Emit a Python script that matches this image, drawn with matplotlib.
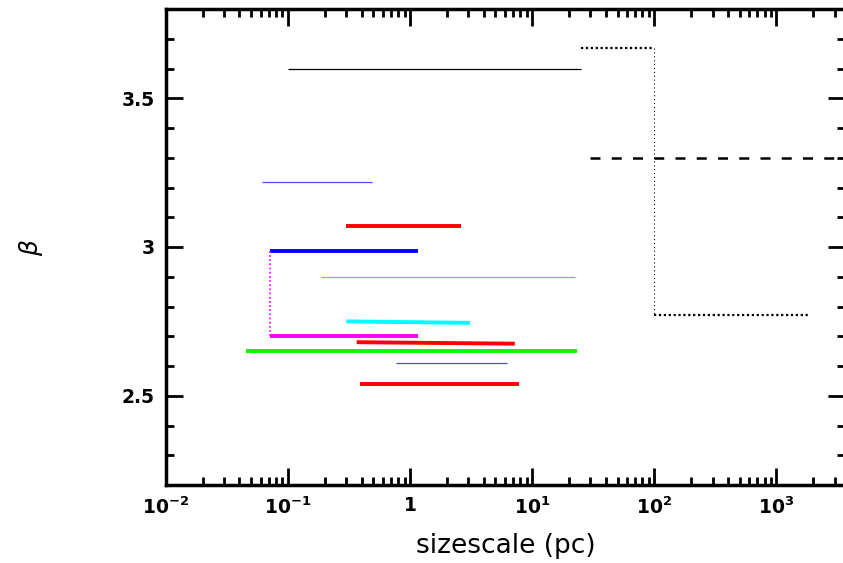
import matplotlib
matplotlib.use("Agg")
import matplotlib.pyplot as plt
from matplotlib.ticker import FixedLocator, LogLocator, MultipleLocator

# Segments: (x start, x end, beta start, beta end)
thick_segments = [
    (0.30, 2.6, 3.07, 3.07),      # red
    (0.071, 1.15, 2.985, 2.985),  # blue
    (0.30, 3.1, 2.75, 2.745),     # cyan
    (0.071, 1.15, 2.70, 2.70),    # magenta
    (0.365, 7.2, 2.68, 2.675),    # red
    (0.0455, 23.4, 2.65, 2.65),   # green
    (0.39, 7.8, 2.54, 2.54),      # red
]
thick_colors = ["#ff0000", "#0000ff", "#00ffff", "#ff00ff", "#ff0000", "#00ff00", "#ff0000"]

thin_segments = [
    (0.10, 25.0, 3.60, 3.60),     # black
    (0.061, 0.49, 3.22, 3.22),    # blue
    (0.185, 22.6, 2.90, 2.90),    # green
    (0.76, 6.2, 2.61, 2.61),      # blue
]
thin_colors = ["#000000", "#4d4df2", "#3ee83e", "#4d4df2"]

# magenta link between blue and magenta segments
link_x = [0.071, 0.071]
link_y = [2.985, 2.70]

# black dotted step
step_x = [25.0, 100.0, 100.0, 1900.0]
step_y = [3.67, 3.67, 2.77, 2.77]

# black dashed line
dash_x = [30.0, 5000.0]
dash_y = [3.30, 3.30]

xtick_vals = [1e-2, 1e-1, 1, 10, 100, 1000]
xtick_labels = [r"$\mathbf{10^{-2}}$", r"$\mathbf{10^{-1}}$", "1",
                r"$\mathbf{10^{1}}$", r"$\mathbf{10^{2}}$", r"$\mathbf{10^{3}}$"]
ytick_vals = [2.5, 3.0, 3.5]
ytick_labels = ["2.5", "3", "3.5"]


def generate_plot(filename="out.png"):
    """
    Trace les segments beta / taille
    """
    plt.rcParams["mathtext.fontset"] = "custom"
    plt.rcParams["mathtext.bf"] = "DejaVu Sans:bold"
    fig = plt.figure(figsize=(8.43, 5.63), dpi=100)
    ax = fig.add_axes([166 / 843, 1 - 485 / 563, 679 / 843, 476 / 563])

    for (x0, x1, y0, y1), c in zip(thick_segments, thick_colors):
        ax.plot([x0, x1], [y0, y1], color=c, lw=2.8, solid_capstyle="butt")
    for (x0, x1, y0, y1), c in zip(thin_segments, thin_colors):
        ax.plot([x0, x1], [y0, y1], color=c, lw=0.9, solid_capstyle="butt")

    ax.plot(link_x, link_y, color="#ff00ff", lw=1.2, linestyle=(0, (1, 1.5)))

    # paliers en pointillés : horizontaux épais, vertical fin
    ax.plot(step_x[:2], step_y[:2], color="black", lw=1.6, linestyle=(0, (1, 1.2)))
    ax.plot(step_x[1:3], step_y[1:3], color="black", lw=0.8, linestyle=(0, (1, 2.5)))
    ax.plot(step_x[2:], step_y[2:], color="black", lw=1.6, linestyle=(0, (1, 1.2)))
    ax.plot(dash_x, dash_y, color="black", lw=1.8, linestyle=(0, (4, 4.5)))

    ax.set_xscale("log")
    ax.set_xlim(0.01, 3650)
    ax.set_ylim(2.2, 3.8)

    ax.xaxis.set_major_locator(FixedLocator(xtick_vals))
    ax.set_xticklabels(xtick_labels)
    ax.xaxis.set_minor_locator(LogLocator(base=10, subs=range(2, 10), numticks=20))
    ax.yaxis.set_major_locator(FixedLocator(ytick_vals))
    ax.set_yticklabels(ytick_labels)
    ax.yaxis.set_minor_locator(MultipleLocator(0.1))

    ax.tick_params(which="both", direction="in", top=True, right=True, width=2)
    ax.tick_params(which="major", length=12, labelsize=13.5, pad=8)
    ax.tick_params(which="minor", length=6)
    for lab in ax.get_xticklabels() + ax.get_yticklabels():
        lab.set_fontweight("bold")
    for sp in ax.spines.values():
        sp.set_linewidth(2.5)

    ax.set_xlabel("sizescale (pc)", fontsize=19, labelpad=11)
    ax.set_ylabel(r"$\beta$", fontsize=18, labelpad=55)

    plt.savefig(filename, dpi=100)


generate_plot()
